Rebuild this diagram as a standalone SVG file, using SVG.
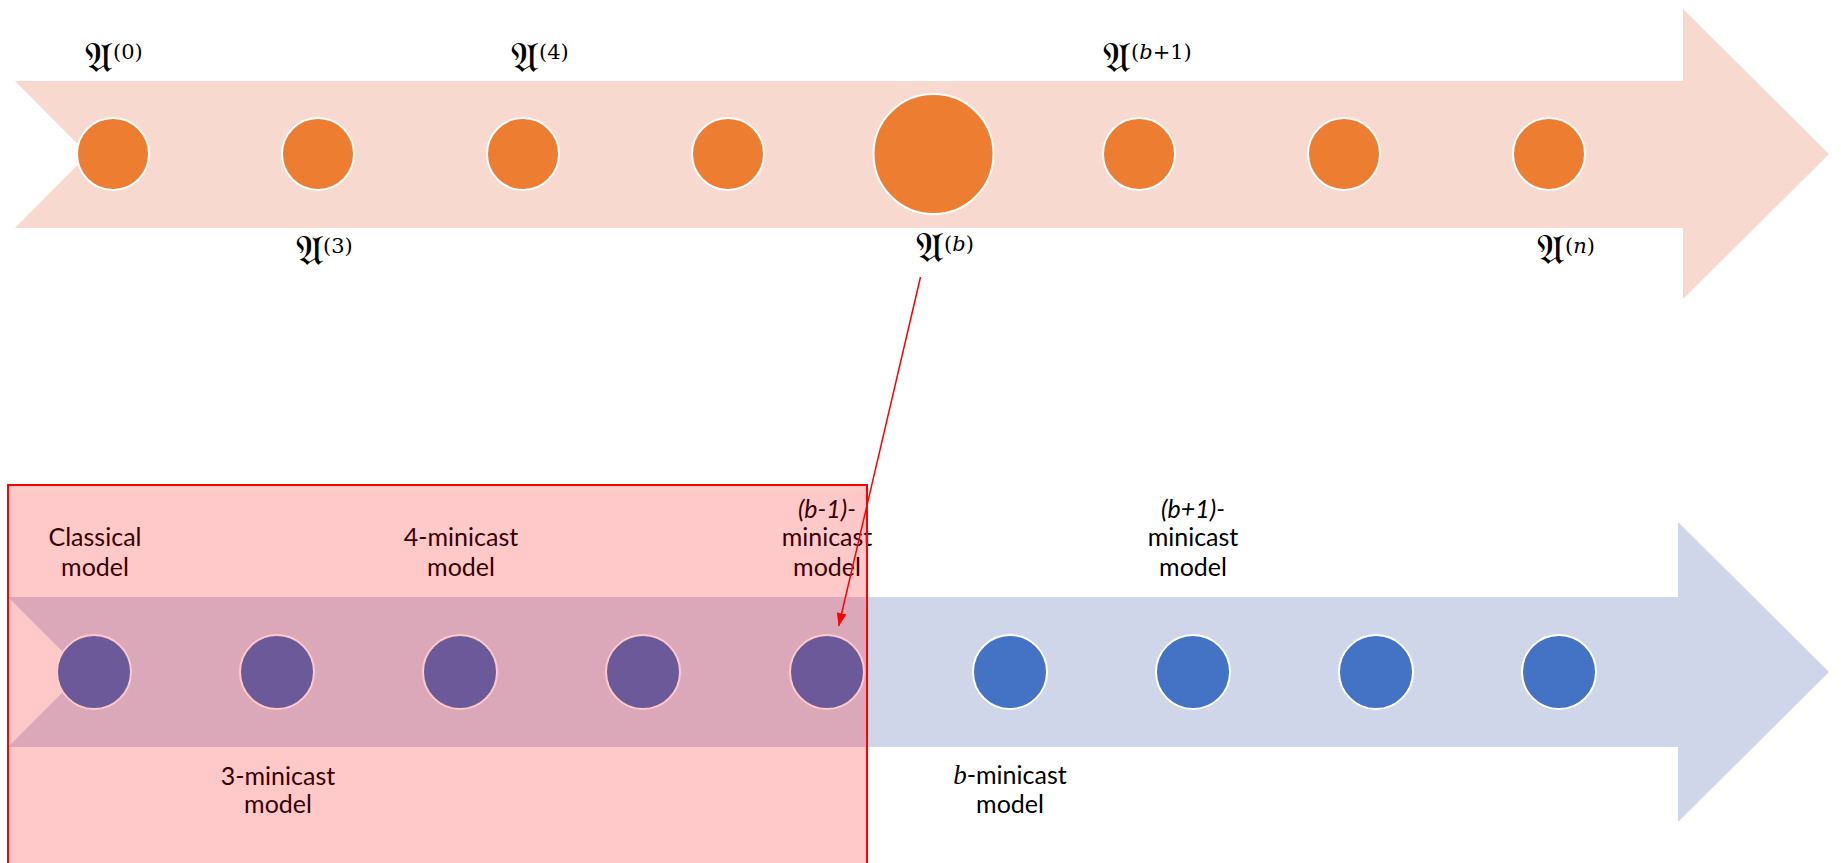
<svg xmlns="http://www.w3.org/2000/svg" width="1841" height="863" viewBox="0 0 1841 863">
  <style>
    .band-top { fill: #F8D9CF; }
    .band-low { fill: #D0D6EA; }
    .dot-o { fill: #ED7D31; stroke: #FFFFFF; stroke-width: 2; }
    .dot-b { fill: #4472C4; stroke: #FFFFFF; stroke-width: 2; }
    .frak { font-family: "DejaVu Serif", "DejaVu Sans", "Noto Sans", serif; font-size: 42px; fill: #000; }
    .sup { font-family: "DejaVu Serif", "Liberation Serif", serif; font-size: 21px; fill: #000; }
    .mi { font-style: italic; }
    .lbl { font-family: Lato, "Liberation Sans", sans-serif; font-size: 25px; fill: #000; text-anchor: middle; }
    .it { font-style: italic; }
    .mathb { font-family: "Liberation Serif", serif; font-style: italic; font-size: 27px; }
    .overlay { fill: #FF0000; fill-opacity: 0.21; stroke: #FF0000; stroke-width: 2; }
    .link { stroke: #FF0000; stroke-width: 1.5; fill: none; }
  </style>
  <defs>
    <marker id="tri" viewBox="0 0 10 10" refX="10" refY="5" markerWidth="13" markerHeight="10" markerUnits="userSpaceOnUse" orient="auto" preserveAspectRatio="none">
      <path d="M0,0 L10,5 L0,10 Z" fill="#FF0000"/>
    </marker>
  </defs>

  <!-- upper timeline arrow -->
  <g id="arrow-upper">
    <path class="band-top" d="M15,81 L1683,81 L1683,9 L1829,154 L1683,299 L1683,228 L15,228 L88,154.5 Z"/>
  </g>

  <!-- lower timeline arrow -->
  <g id="arrow-lower">
    <path class="band-low" d="M8,597 L1678,597 L1678,522 L1829,672 L1678,822 L1678,747 L8,747 L83,672 Z"/>
  </g>

  <!-- upper nodes -->
  <g id="u0"><circle class="dot-o" cx="113" cy="154" r="36"/></g>
  <g id="u3"><circle class="dot-o" cx="318" cy="154" r="36"/></g>
  <g id="u4"><circle class="dot-o" cx="523" cy="154" r="36"/></g>
  <g id="u5"><circle class="dot-o" cx="728" cy="154" r="36"/></g>
  <g id="ub"><circle class="dot-o" cx="933.5" cy="154" r="60"/></g>
  <g id="ub1"><circle class="dot-o" cx="1139" cy="154" r="36"/></g>
  <g id="u7"><circle class="dot-o" cx="1344" cy="154" r="36"/></g>
  <g id="un"><circle class="dot-o" cx="1549" cy="154" r="36"/></g>

  <!-- upper labels -->
  <g id="label-u0"><text class="frak" x="85" y="72">𝔄</text><text class="sup" x="113" y="59">(0)</text></g>
  <g id="label-u4"><text class="frak" x="511" y="72">𝔄</text><text class="sup" x="539" y="59">(4)</text></g>
  <g id="label-ub1"><text class="frak" x="1103" y="72">𝔄</text><text class="sup" x="1131" y="59">(<tspan class="mi">b</tspan>+1)</text></g>
  <g id="label-u3"><text class="frak" x="296" y="265">𝔄</text><text class="sup" x="323" y="253">(3)</text></g>
  <g id="label-ub"><text class="frak" x="916" y="262">𝔄</text><text class="sup" x="944" y="251">(<tspan class="mi">b</tspan>)</text></g>
  <g id="label-un"><text class="frak" x="1537" y="264">𝔄</text><text class="sup" x="1565" y="253">(<tspan class="mi">n</tspan>)</text></g>

  <!-- lower nodes -->
  <g id="m-classical"><circle class="dot-b" cx="94" cy="672" r="37"/></g>
  <g id="m3"><circle class="dot-b" cx="277" cy="672" r="37"/></g>
  <g id="m4"><circle class="dot-b" cx="460" cy="672" r="37"/></g>
  <g id="m5"><circle class="dot-b" cx="643" cy="672" r="37"/></g>
  <g id="m-b1"><circle class="dot-b" cx="827" cy="672" r="37"/></g>
  <g id="m-b"><circle class="dot-b" cx="1010" cy="672" r="37"/></g>
  <g id="m-bp1"><circle class="dot-b" cx="1193" cy="672" r="37"/></g>
  <g id="m8"><circle class="dot-b" cx="1376" cy="672" r="37"/></g>
  <g id="m9"><circle class="dot-b" cx="1559" cy="672" r="37"/></g>

  <!-- lower labels -->
  <g id="label-classical"><text class="lbl" x="95" y="546">Classical</text><text class="lbl" x="95" y="576">model</text></g>
  <g id="label-m4"><text class="lbl" x="461" y="546">4-minicast</text><text class="lbl" x="461" y="576">model</text></g>
  <g id="label-m3"><text class="lbl" x="278" y="785">3-minicast</text><text class="lbl" x="278" y="813">model</text></g>
  <g id="label-b1"><text class="lbl it" x="827" y="518">(b-1)-</text><text class="lbl" x="827" y="546">minicast</text><text class="lbl" x="827" y="576">model</text></g>
  <g id="label-bp1"><text class="lbl it" x="1193" y="518">(b+1)-</text><text class="lbl" x="1193" y="546">minicast</text><text class="lbl" x="1193" y="576">model</text></g>
  <g id="label-b"><text class="lbl" x="1010" y="784"><tspan class="mathb">b</tspan>-minicast</text><text class="lbl" x="1010" y="813">model</text></g>

  <!-- highlighted range of models up to (b-1) -->
  <g id="range-highlight">
    <rect class="overlay" x="8" y="485" width="859" height="400"/>
  </g>

  <!-- connectors -->
  <g id="connectors">
    <line class="link" x1="920.5" y1="277" x2="838.7" y2="626" marker-end="url(#tri)"/>
  </g>
</svg>
